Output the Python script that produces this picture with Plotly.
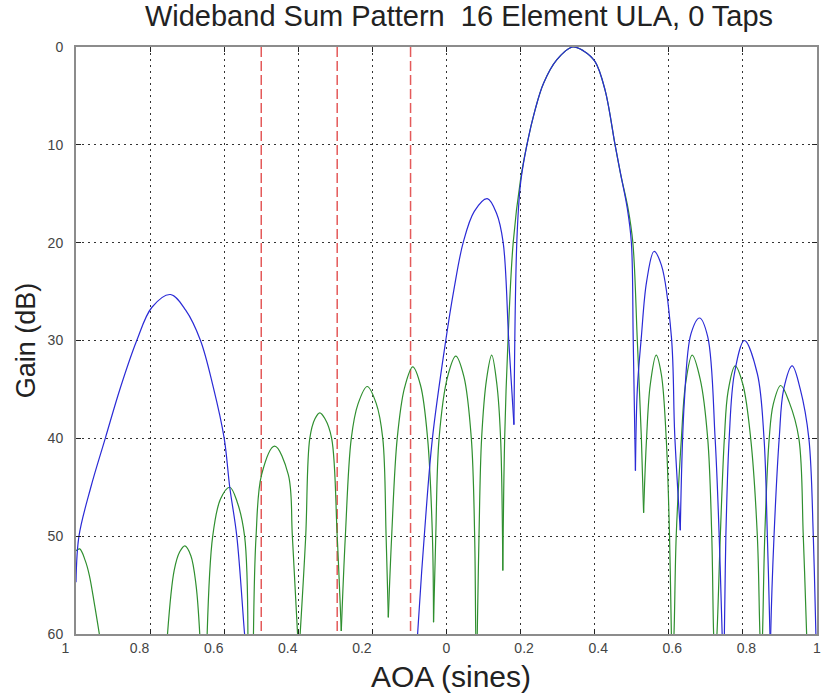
import plotly.graph_objects as go

# ---------------- data ----------------
# x tick positions (AOA in sines) and their printed labels (minus signs are not rendered in the reference)
x_tickvals = [-1.0, -0.8, -0.6, -0.4, -0.2, 0.0, 0.2, 0.4, 0.6, 0.8, 1.0]
x_ticktext = ["1\u2003\u2002", "0.8\u2003\u2002", "0.6\u2003\u2002", "0.4\u2003\u2002", "0.2\u2003\u2002",
              "0", "\u20020.2", "\u20020.4", "\u20020.6", "\u20020.8", "1"]
y_tickvals = [0, 10, 20, 30, 40, 50, 60]

# interference directions (red dashed)
red_x = [-0.5, -0.295, -0.097]

# blue pattern (dB below peak); None = curve below the plotted range
blue_x = [-1.0, -0.992, -0.96, -0.921, -0.88, -0.836, -0.795, -0.745, -0.704, -0.664, -0.63, -0.6,
          -0.585, -0.566, -0.545, -0.54,
          None,
          -0.08, -0.078, -0.06, -0.038, -0.002, 0.02, 0.045, 0.075, 0.11, 0.135, 0.153, 0.168,
          0.182, 0.19, 0.2, 0.217, 0.24, 0.262, 0.298, 0.34, 0.37, 0.401, 0.428, 0.455, 0.47, 0.488,
          0.499, 0.504, 0.51, 0.515, 0.526, 0.54, 0.56, 0.58, 0.607, 0.616, 0.631, 0.642, 0.66,
          0.683, 0.705, 0.725, 0.736, 0.744, 0.747, 0.75, 0.754, 0.763, 0.777, 0.804, 0.839,
          0.857, 0.866, 0.873, 0.874, 0.875, 0.884, 0.898, 0.91, 0.933, 0.955, 0.978, 0.99,
          0.997, 1.0]
blue_y = [54.7, 50, 45, 40, 34.8, 30, 26.6, 25.3, 26.9, 30, 34.7, 40,
          45, 50, 60, 62,
          None,
          62, 60, 50, 40, 30, 24.8, 20, 16.8, 15.5, 17.0, 20, 30,
          38.6, 19.7, 13.9, 10, 6.3, 3.7, 1.3, 0, 0.4, 1.5, 4.4, 10, 13.0, 16.5,
          20, 30, 43.3, 35, 29.6, 24, 20.9, 22.3, 29.6, 39.6, 49.4, 36.2, 29.3,
          27.7, 29.6, 40, 50, 60, 63, 60, 50, 40, 33.4, 30.0, 33.4,
          40, 50, 60, 63, 60, 50, 40, 35, 32.6, 35, 40, 50,
          60, 63]

# green pattern (dB below peak)
green_x = [-1.0, -0.99, -0.975, -0.964, -0.95, -0.937, None,
           -0.753, -0.735, -0.72, -0.706, -0.69, -0.676, -0.666, None,
           -0.646, -0.631, -0.61, -0.585, -0.565, -0.545, -0.536, None,
           -0.521, -0.514, -0.499, -0.464, -0.427, -0.416, -0.402, None,
           -0.395, -0.38, -0.369, -0.355, -0.342, -0.328, -0.31, -0.295, -0.284,
           -0.273, -0.257, -0.239, -0.214, -0.19, -0.172, -0.163, -0.157,
           -0.148, -0.133, -0.113, -0.091, -0.07, -0.051, -0.038, -0.035,
           -0.029, -0.02, 0.003, 0.025, 0.047, 0.067, 0.076, 0.079, 0.081, 0.083,
           0.0877, 0.0948, 0.108, 0.122, 0.136, 0.146, 0.152,
           0.157, 0.166, 0.18, 0.2, 0.217, 0.24, 0.262, 0.298, 0.34, 0.37, 0.401, 0.428,
           0.455, 0.47, 0.49, 0.503, 0.515, 0.526, 0.532,
           0.54, 0.55, 0.566, 0.58, 0.593, 0.602, 0.607, 0.61, 0.614,
           0.62, 0.634, 0.645, 0.663, 0.685, 0.705, 0.716, 0.721, 0.725, 0.730,
           0.739, 0.75, 0.76, 0.779, 0.80, 0.821, 0.839, 0.846, 0.85, 0.853,
           0.859, 0.871, 0.882, 0.902, 0.925, 0.951, 0.963, 0.972, 0.975]
green_y = [51.5, 51.3, 52.5, 54, 57, 60, None,
           60, 53.5, 51.6, 51.0, 52, 55, 60, None,
           60, 50, 46.2, 45.0, 46.5, 50, 60, None,
           60, 50, 43.7, 40.8, 43.7, 50, 60, None,
           60, 50, 40, 38, 37.4, 38, 40, 50, 59.7,
           50, 40, 36.5, 34.7, 36.4, 40, 50, 58.3,
           50, 40, 34.8, 32.7, 34.6, 40, 50, 58.8,
           50, 40, 33.7, 31.6, 33.7, 40, 50, 60, 63, 60,
           50, 40, 34, 31.5, 34.5, 40, 53.5,
           40, 30, 20, 13.5, 10, 6.3, 3.7, 1.3, 0, 0.4, 1.5, 4.4,
           10, 13.0, 16.5, 20, 30, 40, 47.6,
           40, 34.5, 31.5, 33.5, 40, 50, 60, 63, 60,
           50, 40, 34.5, 31.5, 34, 40, 50, 60, 63, 60,
           50, 40, 35.2, 32.6, 34.5, 40, 50, 60, 63, 60,
           50, 40, 36.5, 34.6, 36.3, 40, 50, 60, 63]

assert len(blue_x) == len(blue_y), (len(blue_x), len(blue_y))
assert len(green_x) == len(green_y), (len(green_x), len(green_y))

TITLE = "Wideband Sum Pattern\u00a0 16 Element ULA, 0 Taps"
X_TITLE = "AOA (sines)"
Y_TITLE = "Gain (dB)"

FONT = "Liberation Sans, Arial, sans-serif"


def split_lobes(xs, ys):
    """Split a pattern into lobes at its nulls (local maxima of dB) so each lobe can be
    drawn as a smooth curve while the nulls stay sharp."""
    runs, cur = [], []
    for x, y in zip(xs, ys):
        if x is None or y is None:
            if cur:
                runs.append(cur)
            cur = []
            continue
        cur.append((x, y))
    if cur:
        runs.append(cur)
    lobes = []
    for run in runs:
        start = 0
        for i in range(1, len(run) - 1):
            if run[i][1] > run[i - 1][1] and run[i][1] >= run[i + 1][1]:
                lobes.append(run[start:i + 1])
                start = i
        lobes.append(run[start:])
    return [l for l in lobes if len(l) > 1]


fig = go.Figure()

for rx in red_x:
    fig.add_trace(go.Scatter(x=[rx, rx], y=[y_tickvals[0], y_tickvals[-1]], mode="lines",
                             line=dict(color="#e45a5a", width=1.5, dash="10px,4px"),
                             hoverinfo="skip", showlegend=False))

for xs, ys, color in [(green_x, green_y, "#2f8f2f"), (blue_x, blue_y, "#2a2ad6")]:
    for lobe in split_lobes(xs, ys):
        fig.add_trace(go.Scatter(x=[p[0] for p in lobe], y=[p[1] for p in lobe], mode="lines",
                                 line=dict(color=color, width=1.2, shape="spline", smoothing=1.0),
                                 showlegend=False))

axis_common = dict(
    showgrid=True, gridcolor="#333333", gridwidth=1, griddash="2px,4px",
    showline=True, linecolor="#8c8c8c", linewidth=2, mirror="ticks",
    ticks="inside", ticklen=5, tickcolor="#222222", tickwidth=1,
    zeroline=False, ticklabeloverflow="allow",
    tickfont=dict(family=FONT, size=14, color="#444444"),
)

fig.update_layout(
    width=821, height=694,
    paper_bgcolor="white", plot_bgcolor="white",
    margin=dict(l=76, r=0, t=47, b=60, pad=0),
    title=dict(text=TITLE, x=459 / 821, xanchor="center", xref="container",
               y=1 - 16 / 694, yanchor="middle", yref="container",
               font=dict(family=FONT, size=29, color="#222222")),
    xaxis=dict(range=[-1, 1], tickvals=x_tickvals, ticktext=x_ticktext, **axis_common),
    yaxis=dict(range=[60, 0], tickvals=y_tickvals, ticklabelstandoff=8,
               title=dict(text=Y_TITLE, font=dict(family=FONT, size=27, color="#222222"), standoff=4),
               **axis_common),
    annotations=[dict(text=X_TITLE, xref="paper", yref="paper",
                      x=(453 - 76) / 745, y=-(676 - 634) / 587,
                      xanchor="center", yanchor="middle", showarrow=False,
                      font=dict(family=FONT, size=30, color="#222222"))],
    showlegend=False,
)

fig.write_html("out.html")
